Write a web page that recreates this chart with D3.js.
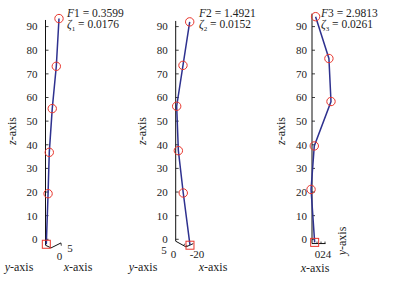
<!DOCTYPE html>
<html>
<head>
<meta charset="utf-8">
<script src="https://cdn.jsdelivr.net/npm/d3@7"></script>
<style>
	body { margin: 0; background: #fff; }
	svg text { font-family: 'Liberation Serif', 'Times New Roman', serif; fill: #222; }
</style>
</head>
<body>
<div id="chart"></div>
<script>
// Mode labels
const modeNames = [ 'F1', 'F2', 'F3' ];
const freqs = [ '0.3599', '1.4921', '2.9813' ];
const damping = [ '0.0176', '0.0152', '0.0261' ];

// Node heights (z), top node first
const nodeZ = [
	[ 93.4, 73.2, 55.3, 36.8, 19.3 ],
	[ 92.0, 73.6, 56.3, 37.5, 19.6 ],
	[ 94.2, 76.5, 58.3, 39.5, 21.1 ],
];
// Normalised projected displacement of each node
const nodeX = [
	[ 1.0, 0.8, 0.5, 0.28, 0.19 ],
	[ 1.0, 0.52, 0.07, 0.19, 0.54 ],
	[ 0.19, 0.89, 1.0, 0.12, -0.05 ],
];
// Base (support) point of each panel
const baseZ = [ -2.1, -2.5, -1.3 ];
const baseX = [ 0.06, 1.02, 0.14 ];

const zTicks = [ 0, 10, 20, 30, 40, 50, 60, 70, 80, 90 ];
const xTicks3 = [ 0, 2, 4 ];

// Per-panel layout
const panels = [
	{ axisX: 45.5, amp: 13.5, zMax: 92.8, zMin: -2.5, tickGap: 8, titleX: 67, zLabelX: 16,
		base: [ [ 0, 0 ], [ 5.5, 2.7 ], [ 15.5, -2.3 ] ],
		baseTicks: [ [ 15.5, -2.3, 15.8, 0.5 ] ],
		labels: [ { t: '0', x: 59.5, y: 260 }, { t: '5', x: 70, y: 252 } ],
		axisNames: [ { t: 'y', x: 19, y: 271 }, { t: 'x', x: 78, y: 271 } ] },
	{ axisX: 175.7, amp: 14, zMax: 92.4, zMin: -0.8, tickGap: 8, titleX: 199, zLabelX: 146,
		base: [ [ 0, 0 ], [ 10.3, 5.7 ], [ 17.6, 2.4 ] ],
		baseTicks: [ [ 8, 4.4, 9, 2.5 ], [ 10.3, 5.7, 11.3, 3.8 ] ],
		labels: [ { t: '5', x: 164, y: 254 }, { t: '0', x: 173.5, y: 258 }, { t: '-20', x: 197, y: 258 } ],
		axisNames: [ { t: 'y', x: 143, y: 271 }, { t: 'x', x: 213, y: 271 } ] },
	{ axisX: 312, amp: 19, zMax: 95.5, zMin: -1.8, tickGap: 5, titleX: 321, zLabelX: 285,
		base: [ [ 0, 0 ], [ 13.5, 0 ] ],
		baseTicks: [ [ 5, 0, 5, -2 ], [ 9, 0, 9, -2 ], [ 13, 0, 13, -2 ] ],
		labels: [],
		axisNames: [ { t: 'x', x: 315, y: 272 } ], yRot: { x: 346, y: 241 } },
];

const width = 397;
const height = 283;

const svg = d3.select( '#chart' )
	.append( 'svg' )
	.attr( 'width', width )
	.attr( 'height', height );

const z = d3.scaleLinear().domain( [ 0, 90 ] ).range( [ 239.3, 26.6 ] );

panels.forEach( ( p, i ) => {
	const g = svg.append( 'g' );
	const xs = d3.scaleLinear().domain( [ 0, 1 ] ).range( [ p.axisX, p.axisX + p.amp ] );
	const y0 = z( p.zMin );

	// z-axis line and ticks
	g.append( 'line' )
		.attr( 'x1', p.axisX ).attr( 'x2', p.axisX )
		.attr( 'y1', z( p.zMax ) ).attr( 'y2', y0 )
		.attr( 'stroke', '#111' ).attr( 'stroke-width', 1 );

	g.selectAll( '.tick' )
		.data( zTicks )
		.join( 'line' )
		.attr( 'x1', p.axisX ).attr( 'x2', p.axisX + 3 )
		.attr( 'y1', ( d ) => z( d ) ).attr( 'y2', ( d ) => z( d ) )
		.attr( 'stroke', '#111' ).attr( 'stroke-width', 0.8 );

	g.selectAll( '.ztl' )
		.data( zTicks )
		.join( 'text' )
		.attr( 'x', p.axisX - p.tickGap )
		.attr( 'y', ( d ) => z( d ) )
		.attr( 'dy', '0.35em' )
		.attr( 'text-anchor', 'end' )
		.attr( 'font-size', 11 )
		.text( ( d ) => d );

	// base axes
	g.append( 'path' )
		.attr( 'd', d3.line()( p.base.map( ( b ) => [ p.axisX + b[ 0 ], y0 + b[ 1 ] ] ) ) )
		.attr( 'fill', 'none' ).attr( 'stroke', '#111' ).attr( 'stroke-width', 1 );
	p.baseTicks.forEach( ( t ) => {
		g.append( 'line' )
			.attr( 'x1', p.axisX + t[ 0 ] ).attr( 'y1', y0 + t[ 1 ] )
			.attr( 'x2', p.axisX + t[ 2 ] ).attr( 'y2', y0 + t[ 3 ] )
			.attr( 'stroke', '#111' ).attr( 'stroke-width', 0.8 );
	} );
	p.labels.forEach( ( l ) => {
		g.append( 'text' ).attr( 'x', l.x ).attr( 'y', l.y )
			.attr( 'text-anchor', 'middle' ).attr( 'font-size', 11 ).text( l.t );
	} );

	// packed x ticks of the third panel (they touch in the original: "024")
	if ( i === 2 ) {
		const xt = d3.scaleLinear().domain( d3.extent( xTicks3 ) ).range( [ 317, 329 ] );
		g.append( 'text' )
			.attr( 'x', xt( d3.mean( xTicks3 ) ) )
			.attr( 'y', 257.5 )
			.attr( 'text-anchor', 'middle' )
			.attr( 'font-size', 11 )
			.text( xTicks3.join( '' ) );
	}

	// axis names
	p.axisNames.forEach( ( a ) => {
		const t = g.append( 'text' ).attr( 'x', a.x ).attr( 'y', a.y )
			.attr( 'text-anchor', 'middle' ).attr( 'font-size', 12 );
		t.append( 'tspan' ).attr( 'font-style', 'italic' ).text( a.t );
		t.append( 'tspan' ).text( '-axis' );
	} );
	if ( p.yRot ) {
		const t = g.append( 'text' )
			.attr( 'transform', `translate(${ p.yRot.x },${ p.yRot.y }) rotate(-90)` )
			.attr( 'text-anchor', 'middle' ).attr( 'font-size', 12 );
		t.append( 'tspan' ).attr( 'font-style', 'italic' ).text( 'y' );
		t.append( 'tspan' ).text( '-axis' );
	}
	const zl = g.append( 'text' )
		.attr( 'transform', `translate(${ p.zLabelX },131) rotate(-90)` )
		.attr( 'text-anchor', 'middle' ).attr( 'font-size', 12 );
	zl.append( 'tspan' ).attr( 'font-style', 'italic' ).text( 'z' );
	zl.append( 'tspan' ).text( '-axis' );

	// mode shape
	const pts = nodeZ[ i ].map( ( h, j ) => [ xs( nodeX[ i ][ j ] ), z( h ) ] );
	const basePt = [ xs( baseX[ i ] ), z( baseZ[ i ] ) ];

	g.append( 'path' )
		.attr( 'd', d3.line()( pts.concat( [ basePt ] ) ) )
		.attr( 'fill', 'none' )
		.attr( 'stroke', '#2e318f' )
		.attr( 'stroke-width', 1.5 );

	g.selectAll( '.node' )
		.data( pts )
		.join( 'circle' )
		.attr( 'cx', ( d ) => d[ 0 ] ).attr( 'cy', ( d ) => d[ 1 ] )
		.attr( 'r', 4.2 )
		.attr( 'fill', 'none' )
		.attr( 'stroke', '#e8352c' )
		.attr( 'stroke-width', 1 );

	g.append( 'rect' )
		.attr( 'x', basePt[ 0 ] - 4 ).attr( 'y', basePt[ 1 ] - 4 )
		.attr( 'width', 8 ).attr( 'height', 8 )
		.attr( 'fill', 'none' )
		.attr( 'stroke', '#e8352c' )
		.attr( 'stroke-width', 1 );

	// title
	const t1 = g.append( 'text' ).attr( 'x', p.titleX ).attr( 'y', 17 ).attr( 'font-size', 11.5 );
	t1.append( 'tspan' ).attr( 'font-style', 'italic' ).text( modeNames[ i ][ 0 ] );
	t1.append( 'tspan' ).text( `${ modeNames[ i ].slice( 1 ) } = ${ freqs[ i ] }` );

	const t2 = g.append( 'text' ).attr( 'x', p.titleX ).attr( 'y', 28 ).attr( 'font-size', 11.5 );
	t2.append( 'tspan' ).attr( 'font-style', 'italic' ).text( 'ζ' );
	t2.append( 'tspan' ).attr( 'font-size', 7 ).attr( 'dy', 2.5 ).text( i + 1 );
	t2.append( 'tspan' ).attr( 'dy', -2.5 ).text( ` = ${ damping[ i ] }` );
} );
</script>
</body>
</html>
